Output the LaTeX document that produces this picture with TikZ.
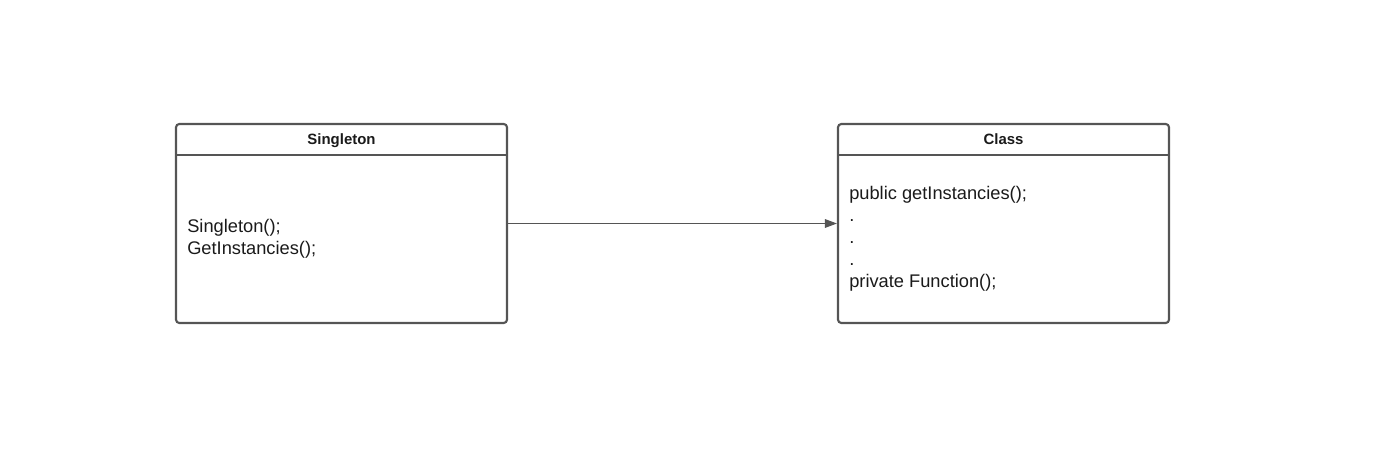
\documentclass[tikz,border=0pt]{standalone}
\usepackage{fontspec}
\setmainfont{Liberation Sans}
\usetikzlibrary{arrows.meta}
\definecolor{edge}{HTML}{555555}
\definecolor{txt}{HTML}{1A1A1A}
\begin{document}
\begin{tikzpicture}[x=0.75pt,y=-0.75pt,
  classbox/.style={draw=edge,line width=1.6pt,rounded corners=2.5pt,minimum width=248.25pt,minimum height=149.25pt,inner sep=0pt},
  title/.style={font=\bfseries\fontsize{11.2pt}{13pt}\selectfont,text=txt,anchor=base,inner sep=0pt},
  body/.style={font=\fontsize{13.7pt}{16.5pt}\selectfont,text=txt,align=left,inner sep=0pt,anchor=base west},
  link/.style={draw=edge,line width=0.8pt,-{Triangle[length=9pt,width=6.5pt]}}]
\useasboundingbox (0,0) rectangle (1400,449);
\node[classbox] (s) at (341.5,223.5) {};
\node[classbox] (c) at (1003.5,223.5) {};
\draw[edge,line width=1.6pt] (176,155) -- (507,155);
\draw[edge,line width=1.6pt] (838,155) -- (1169,155);
\node[title] (st) at (341.5,144.5) {Singleton};
\node[title] (ct) at (1003.5,144.5) {Class};
\node[body] (sb) at (187,254) {Singleton();\\GetInstancies();};
\node[body] (cb) at (849,287) {public getInstancies();\\.\\.\\.\\private Function();};
\draw[link] (s.east) -- (c.west);
\end{tikzpicture}
\end{document}
